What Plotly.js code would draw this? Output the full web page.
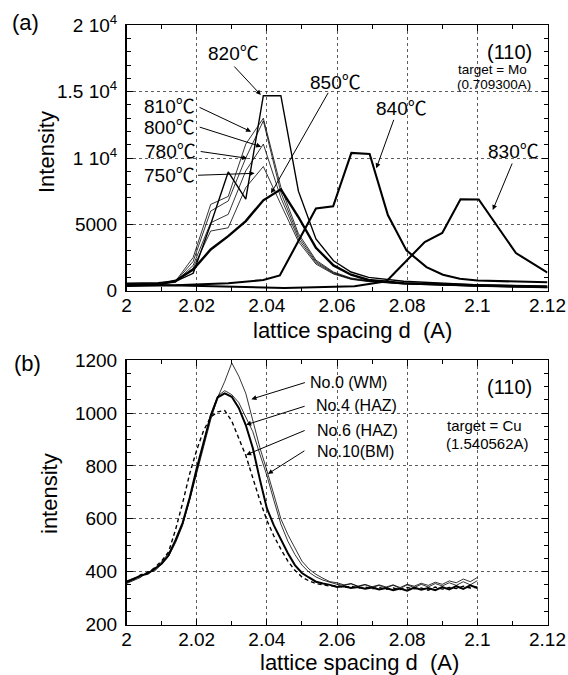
<!DOCTYPE html>
<html><head><meta charset="utf-8">
<script src="https://cdn.plot.ly/plotly-3.0.1.min.js"></script>
<style>html,body{margin:0;padding:0;background:#fff}</style>
</head><body><div id="chart" style="width:568px;height:675px"></div>
<script>
// ---------- Panel (a): Mo target ----------
const xT   = [2.0, 2.004, 2.009, 2.014, 2.019, 2.024, 2.029, 2.034, 2.039, 2.044, 2.049, 2.054, 2.059, 2.064, 2.069, 2.079, 2.089, 2.099, 2.109, 2.12];
const i820 = [550, 560, 600, 700, 1300, 5000, 8950, 6890, 14700, 14700, 7500, 3900, 2250, 1400, 1000, 700, 550, 450, 380, 300];
const i810 = [500, 510, 530, 720, 2500, 6500, 7100, 11050, 13000, 7800, 4300, 2300, 1400, 950, 750, 560, 450, 380, 320, 260];
const i800 = [480, 490, 510, 680, 2200, 6000, 6760, 10000, 12800, 7400, 4100, 2200, 1350, 900, 720, 540, 430, 360, 300, 240];
const i780 = [460, 470, 490, 650, 1900, 5120, 5750, 9030, 11050, 7000, 3900, 2100, 1300, 880, 700, 520, 410, 340, 280, 220];
const i750 = [450, 460, 480, 620, 1700, 4490, 4740, 7770, 9360, 6500, 3700, 2000, 1250, 850, 680, 500, 400, 330, 270, 210];
const i850 = [400, 420, 480, 750, 1590, 3100, 4110, 5245, 6810, 7640, 5550, 3230, 1900, 1200, 800, 550, 450, 400, 350, 320];
const x840 = [2.0, 2.014, 2.029, 2.039, 2.0437, 2.054, 2.0589, 2.0641, 2.0693, 2.0745, 2.0798, 2.0855, 2.0902, 2.095, 2.1, 2.11, 2.12];
const i840 = [350, 400, 550, 800, 1140, 6190, 6360, 10380, 10300, 5700, 3030, 1770, 1190, 890, 760, 680, 630];
const x830 = [2.0, 2.02, 2.045, 2.065, 2.0741, 2.085, 2.09, 2.0952, 2.1004, 2.111, 2.12];
const i830 = [480, 380, 200, 330, 707, 3660, 4340, 6890, 6870, 2830, 1360];
const yTickValsA = [0, 5000, 10000, 15000, 20000];
const yTickTextA = ['0', '5000', '1 10<sup>4</sup>', '1.5 10<sup>4</sup>', '2 10<sup>4</sup>'];

// ---------- Panel (b): Cu target ----------
const xB = [2.000,2.002,2.004,2.006,2.008,2.010,2.012,2.014,2.016,2.018,2.020,2.022,2.024,2.026,2.028,2.030,2.032,2.034,2.036,2.038,2.040,2.042,2.044,2.046,2.048,2.050,2.052,2.054,2.056,2.058,2.060,2.062,2.064,2.066,2.068,2.070,2.072,2.074,2.076,2.078,2.080,2.082,2.084,2.086,2.088,2.090,2.092,2.094,2.096,2.098,2.100];
const bNo0  = [365,375,380,398,405,438,470,515,580,670,775,880,975,1060,1120,1190,1140,1075,975,870,784,695,600,540,490,440,410,390,375,362,358,350,355,345,352,343,350,342,350,340,352,345,356,348,360,352,365,358,372,362,378];
const bNo4  = [360,372,385,392,410,430,462,520,585,680,790,885,990,1060,1075,1062,1020,955,868,750,640,575,520,470,425,395,378,362,355,350,342,345,338,342,335,340,333,338,330,336,328,340,332,338,330,342,333,345,335,348,338];
const bNo6  = [362,370,388,395,415,440,475,560,660,770,860,935,985,1005,1010,970,905,840,755,670,595,535,485,440,405,380,365,355,350,345,348,340,345,338,342,335,340,333,338,332,340,335,338,330,342,334,340,336,345,338,342];
const bNo10 = [355,368,378,400,402,428,458,510,575,672,780,890,995,1065,1085,1070,1040,985,930,845,765,670,580,515,465,425,398,380,368,360,352,348,354,344,350,340,348,338,349,336,350,340,352,342,355,346,358,348,362,350,366];

const xTickVals = [2, 2.02, 2.04, 2.06, 2.08, 2.1, 2.12];
const xTickText = ['2', '2.02', '2.04', '2.06', '2.08', '2.1', '2.12'];
const yTickValsB = [200, 400, 600, 800, 1000, 1200];

const F = 'Liberation Sans, Arial, Noto Sans CJK JP, sans-serif';
const W = 568, H = 675;

function line(x, y, w, xa, ya, dash) {
  return {x: x, y: y, xaxis: xa, yaxis: ya, type: 'scatter', mode: 'lines',
          line: {color: '#000', width: w, dash: dash || 'solid'}, hoverinfo: 'skip', showlegend: false};
}

const traces = [
  line(xT, i810, 0.8, 'x', 'y'),
  line(xT, i800, 0.8, 'x', 'y'),
  line(xT, i780, 0.8, 'x', 'y'),
  line(xT, i750, 0.8, 'x', 'y'),
  line(xT, i820, 1.4, 'x', 'y'),
  line(xT, i850, 2.4, 'x', 'y'),
  line(x840, i840, 2.1, 'x', 'y'),
  line(x830, i830, 2.1, 'x', 'y'),
  line(xB, bNo6, 1.4, 'x2', 'y2', '4px,3px'),
  line(xB, bNo10, 0.8, 'x2', 'y2'),
  line(xB, bNo0, 0.8, 'x2', 'y2'),
  line(xB, bNo4, 2.0, 'x2', 'y2')
];

function axBase(extra) {
  return Object.assign({
    showline: true, linecolor: '#000', linewidth: 1.5, mirror: 'ticks',
    ticks: 'inside', ticklen: 6, tickwidth: 1, tickcolor: '#000',
    showgrid: true, gridcolor: '#333', griddash: 'dot', gridwidth: 0.8,
    zeroline: false, tickfont: {family: F, size: 19, color: '#000'},
    ticklabelstandoff: 4
  }, extra);
}

const xDom = [126.5 / W, 547.5 / W];
const layout = {
  width: W, height: H, margin: {l: 0, r: 0, t: 0, b: 0},
  paper_bgcolor: '#fff', plot_bgcolor: '#fff', showlegend: false,
  xaxis: axBase({domain: xDom, range: [2, 2.12], tickmode: 'array', tickvals: xTickVals, ticktext: xTickText, ticklabelstandoff: -3,
    minor: {tickmode: 'linear', tick0: 2, dtick: 0.01, ticks: 'inside', ticklen: 4, tickcolor: '#000', showgrid: false}, anchor: 'y'}),
  yaxis: axBase({domain: [1 - 290.6 / H, 1 - 25.4 / H], range: [0, 20000], tickmode: 'array', tickvals: yTickValsA, ticktext: yTickTextA,
    minor: {tickmode: 'linear', tick0: 0, dtick: 1000, ticks: 'inside', ticklen: 4, tickcolor: '#000', showgrid: false}, anchor: 'x'}),
  xaxis2: axBase({domain: xDom, range: [2, 2.12], tickmode: 'array', tickvals: xTickVals, ticktext: xTickText, ticklabelstandoff: -3,
    minor: {tickmode: 'linear', tick0: 2, dtick: 0.01, ticks: 'inside', ticklen: 4, tickcolor: '#000', showgrid: false}, anchor: 'y2'}),
  yaxis2: axBase({domain: [1 - 624.5 / H, 1 - 360.3 / H], range: [200, 1200], tickmode: 'array', tickvals: yTickValsB,
    minor: {tickmode: 'linear', tick0: 200, dtick: 50, ticks: 'inside', ticklen: 4, tickcolor: '#000', showgrid: false}, anchor: 'x2'}),
  annotations: []
};

function txt(s, px, py, size, angle) {
  layout.annotations.push({text: s, xref: 'paper', yref: 'paper', x: px / W, y: 1 - py / H,
    xanchor: 'center', yanchor: 'middle', showarrow: false, textangle: angle || 0,
    font: {family: F, size: size, color: '#000'}});
}
function arr(xa, ya, x, y, axp, ayp) {
  layout.annotations.push({text: '', xref: xa, yref: ya, x: x, y: y, ax: axp, ay: ayp,
    showarrow: true, arrowhead: 2, arrowsize: 1, arrowwidth: 1, arrowcolor: '#000'});
}

// panel (a) text
txt('(a)', 25, 22, 22);
txt('Intensity', 47, 152, 22, -90);
txt('lattice spacing d\u00a0\u00a0(A)', 352, 330, 22);
txt('820\u2103', 233, 54, 19);
txt('810\u2103', 169, 106, 19);
txt('800\u2103', 169, 128, 19);
txt('780\u2103', 170, 151, 19);
txt('750\u2103', 169, 176, 19);
txt('850\u2103', 335, 83, 19);
txt('840\u2103', 402, 108, 19);
txt('830\u2103', 513, 151, 19);
txt('(110)', 509, 52, 20);
txt('target = Mo', 492, 69, 13.5);
txt('(0.709300A)', 494, 84, 13.5);
arr('x', 'y', 2.0383, 14752, -28, -30);
arr('x', 'y', 2.0355, 11985, -53, -25);
arr('x', 'y', 2.0384, 10855, -63, -20);
arr('x', 'y', 2.0344, 9978, -48, -7);
arr('x', 'y', 2.0365, 8846, -58, 2);
arr('x', 'y', 2.0412, 7338, 58, -102);
arr('x', 'y', 2.0712, 9224, 18, -50);
arr('x', 'y', 2.1044, 6079, 20, -48);

// panel (b) text
txt('(b)', 27, 364, 22);
txt('intensity', 49, 494, 22, -90);
txt('lattice spacing d\u00a0\u00a0(A)', 359, 662, 22);
txt('No.0 (WM)', 348, 383, 16);
txt('No.4 (HAZ)', 356, 405, 16);
txt('No.6 (HAZ)', 357, 430, 16);
txt('No.10(BM)', 355, 452, 16);
txt('(110)', 509, 387, 20);
txt('target = Cu', 484, 426, 15);
txt('(1.540562A)', 487, 443, 15);
arr('x2', 'y2', 2.0356, 1053, 55, -17);
arr('x2', 'y2', 2.0341, 956, 60, -19);
arr('x2', 'y2', 2.0341, 842, 60, -25);
arr('x2', 'y2', 2.0403, 770, 38, -24);

Plotly.newPlot('chart', traces, layout, {staticPlot: true, displayModeBar: false});
</script></body></html>
